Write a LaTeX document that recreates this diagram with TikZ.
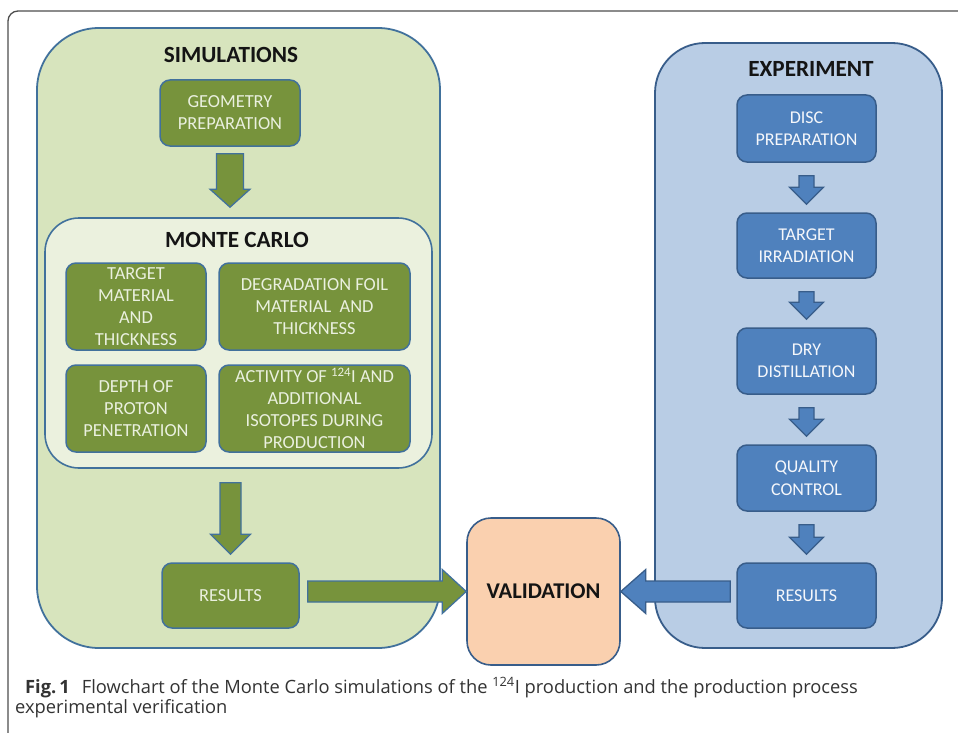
\documentclass[tikz,border=0pt]{standalone}
\usepackage{fontspec}
\setmainfont{Carlito}
\newfontfamily\captionfont{Open Sans}
\usetikzlibrary{calc}

\definecolor{simfill}{HTML}{D7E4BD}
\definecolor{mcfill}{HTML}{EBF1DE}
\definecolor{grnbox}{HTML}{77933C}
\definecolor{expfill}{HTML}{B9CDE5}
\definecolor{bluebox}{HTML}{4F81BD}
\definecolor{valfill}{HTML}{FAD0AF}
\definecolor{edgeblue}{HTML}{41719C}
\definecolor{edgedark}{HTML}{385D8A}
\definecolor{grntext}{HTML}{EAF0DF}
\definecolor{framegray}{HTML}{4D4D4D}
\definecolor{captext}{HTML}{333333}

% vertical block arrow: style, from, to, node giving x, top gap, bottom gap,
% shaft half width, head half width, head length
\newcommand\blockdown[9]{%
  \path[#1] let \p1=(#2.south), \p2=(#3.north), \p3=(#4.center) in
    (\x3-#7pt,\y1-#5pt) -- (\x3+#7pt,\y1-#5pt) -- (\x3+#7pt,\y2+#6pt+#9pt)
    -- (\x3+#8pt,\y2+#6pt+#9pt) -- (\x3,\y2+#6pt) -- (\x3-#8pt,\y2+#6pt+#9pt)
    -- (\x3-#7pt,\y2+#6pt+#9pt) -- cycle;}
% horizontal block arrow pointing right (into the west side of the target)
\newcommand\blockright[8]{%
  \path[#1] let \p1=(#2.east), \p2=(#3.west) in
    (\x1+#4pt,\y2+#6pt) -- (\x2-#5pt-#8pt,\y2+#6pt) -- (\x2-#5pt-#8pt,\y2+#7pt)
    -- (\x2-#5pt,\y2) -- (\x2-#5pt-#8pt,\y2-#7pt) -- (\x2-#5pt-#8pt,\y2-#6pt)
    -- (\x1+#4pt,\y2-#6pt) -- cycle;}
% horizontal block arrow pointing left (into the east side of the target)
\newcommand\blockleft[8]{%
  \path[#1] let \p1=(#2.west), \p2=(#3.east) in
    (\x1-#4pt,\y2+#6pt) -- (\x2+#5pt+#8pt,\y2+#6pt) -- (\x2+#5pt+#8pt,\y2+#7pt)
    -- (\x2+#5pt,\y2) -- (\x2+#5pt+#8pt,\y2-#7pt) -- (\x2+#5pt+#8pt,\y2-#6pt)
    -- (\x1-#4pt,\y2-#6pt) -- cycle;}

\tikzset{
  panel/.style={draw=edgeblue, line width=1.8pt, inner sep=0pt},
  gbox/.style={draw=edgeblue, line width=1.5pt, fill=grnbox, rounded corners=10pt,
    text=grntext, font=\fontsize{18.4}{22}\selectfont, align=center, inner sep=0pt},
  bbox/.style={draw=edgedark, line width=1.5pt, fill=bluebox, rounded corners=10pt,
    text=white!94!bluebox, font=\fontsize{18}{22.5}\selectfont, align=center,
    inner sep=0pt, minimum width=139pt},
  heading/.style={font=\fontsize{23.2}{26}\selectfont\bfseries, text=black!92, anchor=base},
  garrow/.style={fill=grnbox, draw=edgeblue, line width=1.3pt},
  barrow/.style={fill=bluebox, draw=edgedark, line width=1.3pt},
  captionline/.style={anchor=base west, inner sep=0pt, text=captext,
    font=\captionfont\fontsize{18.3}{20}\selectfont},
}

\begin{document}
\begin{tikzpicture}[x=1pt, y=-1pt]
\useasboundingbox (0,0) rectangle (958,733);
\fill[white] (0,0) rectangle (958,733);

% page frame, only its top-left corner lies on the page
\draw[framegray, line width=1.3pt, rounded corners=10pt] (8,760) -- (8,11) -- (990,11);

% ---------------- simulations panel ----------------
\node[panel, fill=simfill, rounded corners=62pt, minimum width=403pt, minimum height=620pt]
  (sim) at (238.5,338) {};
\node[heading] (simtitle) at (231,63) {SIMULATIONS};
\node[gbox, minimum width=140pt, minimum height=66pt] (geo) at (230,113)
  {GEOMETRY\\PREPARATION};

\node[panel, fill=mcfill, line width=1.6pt, rounded corners=34pt,
  minimum width=387pt, minimum height=250pt] (mc) at (238.5,343) {};
\node[heading] (mctitle) at (237,247) {MONTE CARLO};
\node[gbox, minimum width=140pt, minimum height=87pt] (tm) at (136,306.5)
  {TARGET\\MATERIAL\\AND\\THICKNESS};
\node[gbox, minimum width=191pt, minimum height=87pt] (df) at (314.5,306.5)
  {DEGRADATION FOIL\\MATERIAL\ \ AND\\THICKNESS};
\node[gbox, minimum width=140pt, minimum height=87pt] (dp) at (136,408.5)
  {DEPTH OF\\PROTON\\PENETRATION};
\node[gbox, minimum width=191pt, minimum height=87pt] (ac) at (314.5,408.5)
  {ACTIVITY OF \textsuperscript{124}I AND\\ADDITIONAL\\ISOTOPES DURING\\PRODUCTION};

\node[gbox, minimum width=137pt, minimum height=65pt] (sres) at (230.5,595.5) {RESULTS};

% ---------------- experiment panel ----------------
\node[panel, draw=edgedark, fill=expfill, rounded corners=50pt,
  minimum width=287pt, minimum height=605pt] (exp) at (798.5,345.5) {};
\node[heading] (exptitle) at (811,77) {EXPERIMENT};
\node[bbox, minimum height=67pt] (disc) at (806.5,128.5) {DISC\\PREPARATION};
\node[bbox, minimum height=65pt] (tirr) at (806.5,245.5) {TARGET\\IRRADIATION};
\node[bbox, minimum height=66pt] (dry) at (806.5,361) {DRY\\DISTILLATION};
\node[bbox, minimum height=66pt] (qc) at (806.5,478) {QUALITY\\CONTROL};
\node[bbox, minimum height=65pt] (eres) at (806.5,595.5) {RESULTS};

% ---------------- validation ----------------
\node[panel, draw=edgedark, line width=1.6pt, fill=valfill, rounded corners=24pt,
  minimum width=153pt, minimum height=147pt,
  font=\fontsize{22.5}{26}\selectfont\bfseries, text=black!92] (val) at (543.5,591.5)
  {VALIDATION};

% ---------------- block arrows ----------------
\blockdown{garrow}{geo}{mc}{geo}{7}{10}{13.5}{20}{18}
\blockdown{garrow}{mc}{sres}{sres}{14}{8}{10.5}{20}{20}
\blockright{garrow}{sres}{val}{8}{0}{10.5}{22}{24}

\blockdown{barrow}{disc}{tirr}{disc}{13}{8}{7.5}{17}{17}
\blockdown{barrow}{tirr}{dry}{tirr}{13}{8}{7.5}{17}{17}
\blockdown{barrow}{dry}{qc}{dry}{13}{8}{7.5}{17}{17}
\blockdown{barrow}{qc}{eres}{qc}{13}{8}{7.5}{17}{17}
\blockleft{barrow}{eres}{val}{6}{0}{10.5}{22}{25}

% ---------------- caption ----------------
\node[captionline] (cap1) at (25,693)
  {\textbf{Fig.\,1}\hspace{12pt}Flowchart of the Monte Carlo simulations of the \textsuperscript{124}I production and the production process};
\node[captionline] (cap2) at (15,713) {experimental verification};
\end{tikzpicture}
\end{document}
